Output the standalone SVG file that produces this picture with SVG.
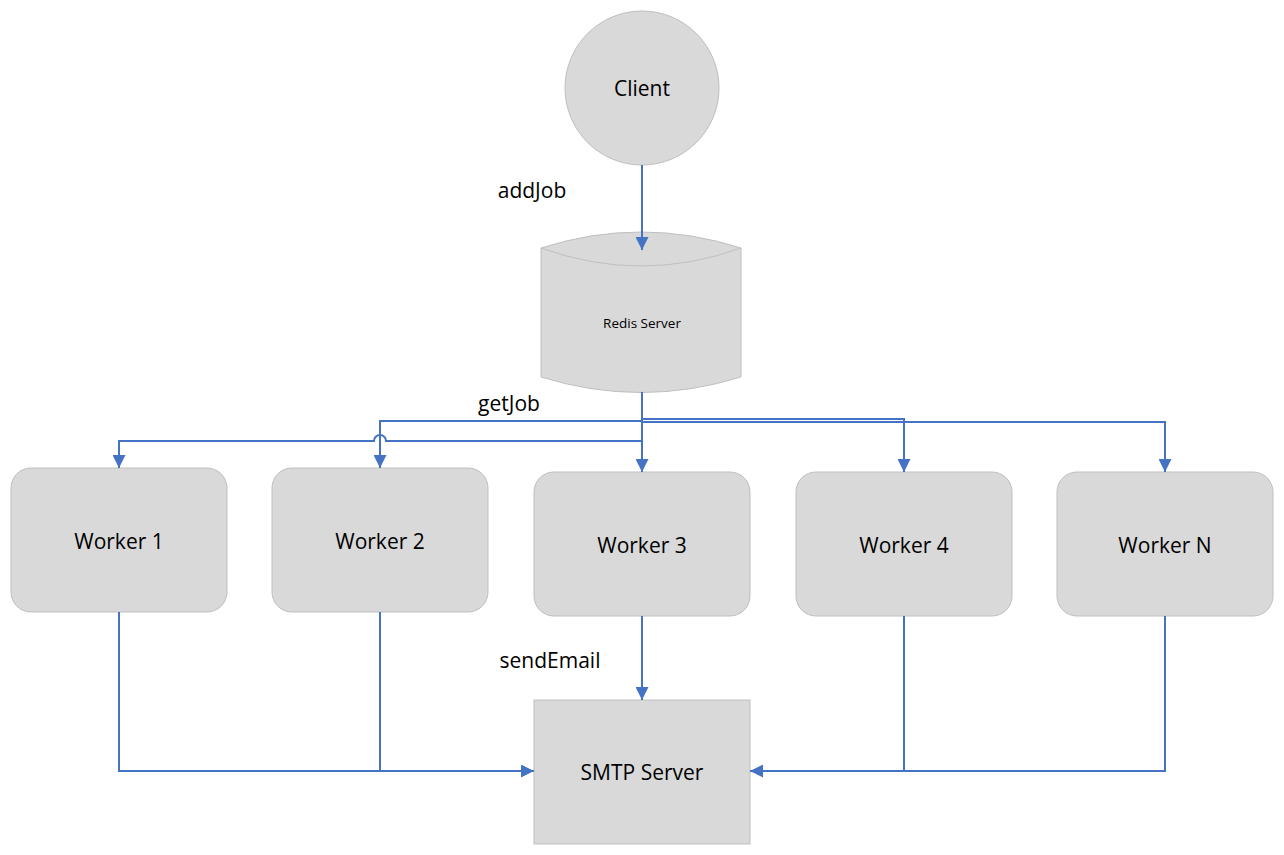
<svg xmlns="http://www.w3.org/2000/svg" width="1284" height="855" viewBox="0 0 1284 855">
<defs>
<marker id="arr" viewBox="0 0 10 10" refX="10" refY="5" markerWidth="13" markerHeight="13" markerUnits="userSpaceOnUse" orient="auto">
<path d="M0,0 L10,5 L0,10 z" fill="#4472C4"/>
</marker>
</defs>
<style>
.shape{fill:#D9D9D9;stroke:#BFBFBF;stroke-width:1}
.lbl{font-family:"Open Sans","Noto Sans","Liberation Sans",sans-serif;font-size:21px;fill:#000;text-anchor:middle;dominant-baseline:central}
.small{font-size:13.5px}
.edge{fill:none;stroke:#4472C4;stroke-width:2}
.edgeA{fill:none;stroke:#4472C4;stroke-width:2;marker-end:url(#arr)}
</style>
<rect width="1284" height="855" fill="#fff"/>

<g id="client">
<circle class="shape" cx="642" cy="88" r="77"/>
<text class="lbl" x="642" y="88">Client</text>
</g>

<g id="redis">
<path class="shape" d="M541,248 Q641,216 741,248 L741,377 Q641,408 541,377 Z"/>
<path d="M541,248 Q641,284 741,248" fill="none" stroke="#BFBFBF" stroke-width="1"/>
<text class="lbl small" x="642" y="323">Redis Server</text>
</g>

<g id="worker1">
<rect class="shape" x="11" y="468" width="216" height="144" rx="20"/>
<text class="lbl" x="119" y="541">Worker 1</text>
</g>
<g id="worker2">
<rect class="shape" x="272" y="468" width="216" height="144" rx="20"/>
<text class="lbl" x="380" y="541">Worker 2</text>
</g>
<g id="worker3">
<rect class="shape" x="534" y="472" width="216" height="144" rx="20"/>
<text class="lbl" x="642" y="545">Worker 3</text>
</g>
<g id="worker4">
<rect class="shape" x="796" y="472" width="216" height="144" rx="20"/>
<text class="lbl" x="904" y="545">Worker 4</text>
</g>
<g id="workerN">
<rect class="shape" x="1057" y="472" width="216" height="144" rx="20"/>
<text class="lbl" x="1165" y="545">Worker N</text>
</g>

<g id="smtp">
<rect class="shape" x="534" y="700" width="216" height="144"/>
<text class="lbl" x="642" y="772">SMTP Server</text>
</g>

<g id="connectors">
<path class="edgeA" d="M642,165 L642,250"/>
<path class="edgeA" d="M642,392 L642,472"/>
<path class="edgeA" d="M642,421 L380,421 L380,468"/>
<path class="edgeA" d="M642,441 L386,441 A6,6 0 0 0 374,441 L119,441 L119,468"/>
<path class="edgeA" d="M642,419 L904,419 L904,472"/>
<path class="edgeA" d="M642,422 L1165,422 L1165,472"/>
<path class="edgeA" d="M642,616 L642,700"/>
<path class="edgeA" d="M119,612 L119,771 L534,771"/>
<path class="edge" d="M380,612 L380,771"/>
<path class="edgeA" d="M1165,616 L1165,771 L750,771"/>
<path class="edge" d="M904,616 L904,771"/>
<text class="lbl" x="532" y="190">addJob</text>
<text class="lbl" x="509" y="403">getJob</text>
<text class="lbl" x="550" y="660">sendEmail</text>
</g>
</svg>
